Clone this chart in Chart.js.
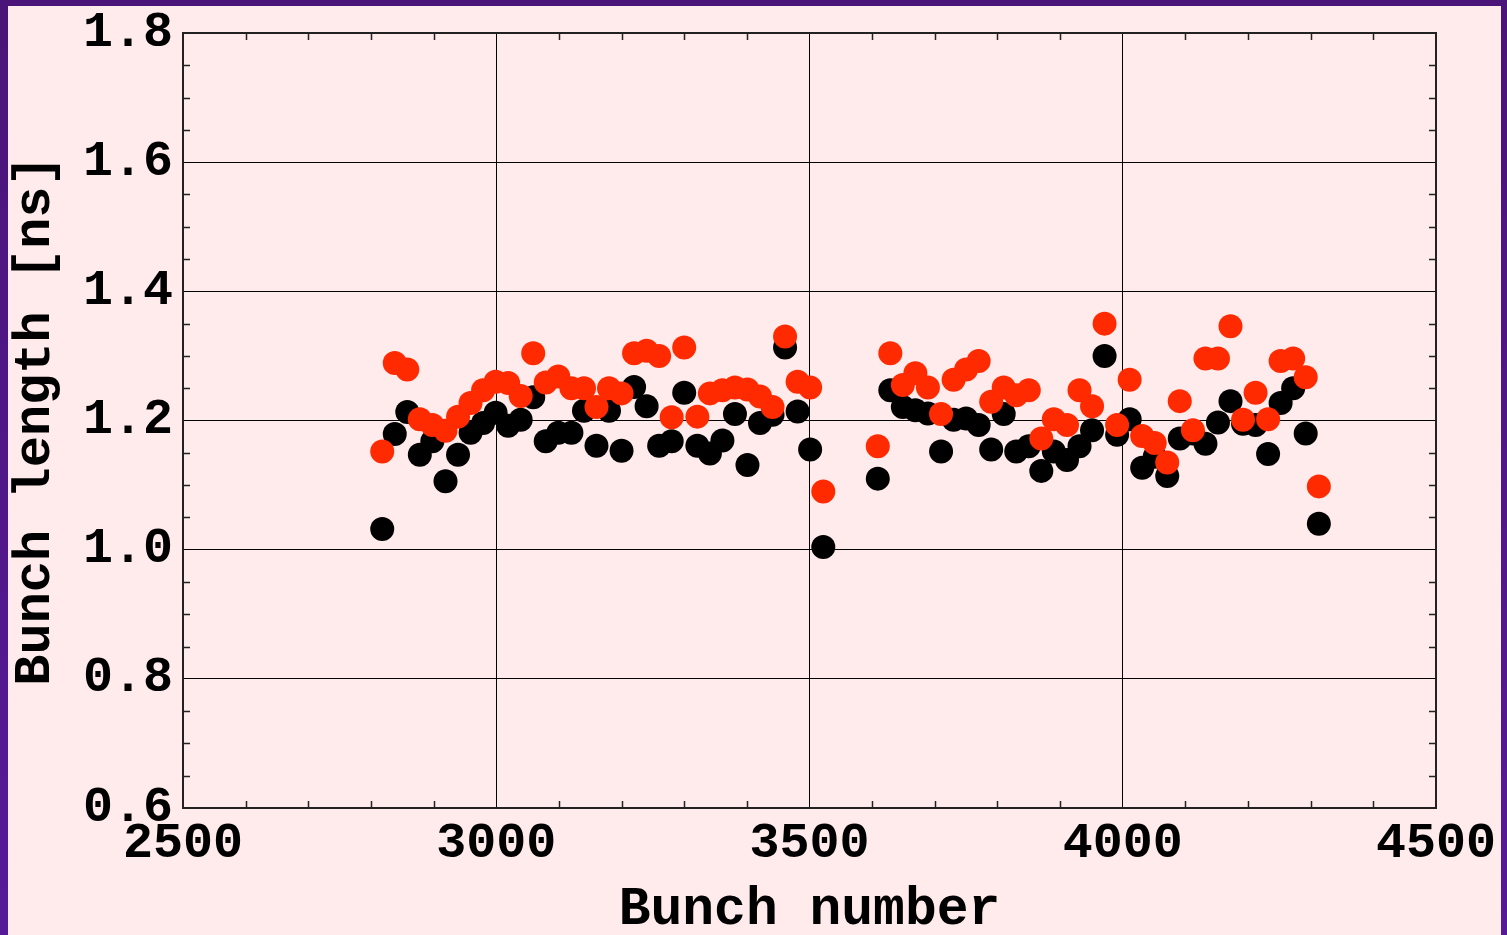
<!DOCTYPE html>
<html><head><meta charset="utf-8">
<script src="https://cdn.jsdelivr.net/npm/chart.js@4/dist/chart.umd.min.js"></script>
<style>html,body{margin:0;padding:0;background:#ffebeb;overflow:hidden}canvas{display:block}</style>
</head><body><canvas id="c" width="1507" height="935"></canvas>
<script>
// Bunch numbers, first train and second train
const bunchesTrain1 = [2818,2838,2858,2878,2898,2919,2939,2959,2979,2999,3019,3039,3059,3079,3099,3120,3140,3160,3180,3200,3220,3240,3260,3280,3300,3321,3341,3361,3381,3401,3421,3441,3461,3481,3501,3522];
const bunchesTrain2 = [3609,3629,3649,3669,3689,3710,3730,3750,3770,3790,3810,3830,3850,3870,3890,3911,3931,3951,3971,3991,4011,4031,4051,4071,4091,4112,4132,4152,4172,4192,4212,4232,4252,4272,4292,4313];
// Bunch length [ns], black series
const blackTrain1 = [1.032,1.179,1.213,1.147,1.168,1.106,1.147,1.181,1.196,1.212,1.192,1.201,1.236,1.168,1.181,1.181,1.215,1.161,1.215,1.153,1.252,1.222,1.161,1.168,1.243,1.161,1.149,1.169,1.210,1.131,1.196,1.209,1.313,1.214,1.155,1.004];
const blackTrain2 = [1.110,1.247,1.221,1.216,1.211,1.152,1.201,1.203,1.193,1.155,1.210,1.152,1.160,1.122,1.152,1.139,1.160,1.185,1.300,1.178,1.202,1.127,1.144,1.114,1.172,1.180,1.164,1.197,1.230,1.195,1.193,1.148,1.227,1.250,1.180,1.040];
// Bunch length [ns], red series
const redTrain1 = [1.152,1.289,1.279,1.202,1.193,1.184,1.206,1.227,1.247,1.260,1.258,1.238,1.304,1.259,1.268,1.250,1.250,1.221,1.250,1.242,1.304,1.308,1.300,1.205,1.313,1.206,1.242,1.247,1.251,1.248,1.237,1.221,1.330,1.260,1.251,1.090];
const redTrain2 = [1.160,1.304,1.255,1.273,1.251,1.210,1.263,1.279,1.292,1.229,1.251,1.239,1.247,1.172,1.202,1.193,1.247,1.222,1.350,1.193,1.263,1.176,1.165,1.135,1.230,1.185,1.296,1.296,1.346,1.201,1.243,1.202,1.292,1.296,1.267,1.098];
// Axis ranges / tick steps
const xRange = [2500, 4500], xMajor = 500, xMinor = 100;
const yRange = [0.6, 1.8], yMajor = 0.2, yMinor = 0.05;

const FONT = "'Liberation Mono', 'DejaVu Sans Mono', monospace";
const RED = '#ff2a00';

function pts(xs, ys) { return xs.map((x, i) => ({ x, y: ys[i] })); }

const bgPlugin = {
  id: 'bg',
  beforeDraw(chart) {
    const c = chart.ctx, W = chart.width, H = chart.height;
    c.save();
    const g = c.createLinearGradient(0, 0, 0, H);
    g.addColorStop(0, '#4a1478');
    g.addColorStop(1, '#561a98');
    c.fillStyle = g;
    c.fillRect(0, 0, W, H);
    c.fillStyle = '#ffebeb';
    c.fillRect(8, 6, W - 8 - 6, H - 6);
    c.restore();
  }
};

const framePlugin = {
  id: 'frame',
  beforeDatasetsDraw(chart) {
    const c = chart.ctx, a = chart.chartArea;
    const xs = chart.scales.x, ys = chart.scales.y;
    c.save();
    c.strokeStyle = '#222';
    c.lineWidth = 1.5;
    c.beginPath();
    for (let v = xRange[0] + xMinor; v < xRange[1] - 1e-6; v += xMinor) {
      if (Math.abs(v / xMajor - Math.round(v / xMajor)) < 1e-6) continue;
      const px = Math.round(xs.getPixelForValue(v)) + 0.5;
      c.moveTo(px, a.bottom); c.lineTo(px, a.bottom - 7);
      c.moveTo(px, a.top); c.lineTo(px, a.top + 7);
    }
    for (let k = 1; k < Math.round((yRange[1] - yRange[0]) / yMinor); k++) {
      if (k % 4 === 0) continue;
      const v = yRange[0] + k * yMinor;
      const py = Math.round(ys.getPixelForValue(v)) + 0.5;
      c.moveTo(a.left, py); c.lineTo(a.left + 7, py);
      c.moveTo(a.right, py); c.lineTo(a.right - 7, py);
    }
    c.stroke();
    c.lineWidth = 2;
    c.strokeStyle = '#222';
    c.strokeRect(a.left, a.top, a.right - a.left, a.bottom - a.top);
    c.restore();
  }
};

new Chart(document.getElementById('c'), {
  type: 'scatter',
  data: {
    datasets: [
      { label: 'red', data: pts(bunchesTrain1, redTrain1).concat(pts(bunchesTrain2, redTrain2)),
        backgroundColor: RED, borderWidth: 0, pointRadius: 12, pointHoverRadius: 12 },
      { label: 'black', data: pts(bunchesTrain1, blackTrain1).concat(pts(bunchesTrain2, blackTrain2)),
        backgroundColor: '#000', borderWidth: 0, pointRadius: 12, pointHoverRadius: 12 }
    ]
  },
  options: {
    responsive: false, animation: false, devicePixelRatio: 1,
    layout: { padding: { top: 33, right: 71, left: 0, bottom: 0 } },
    plugins: { legend: { display: false }, tooltip: { enabled: false } },
    scales: {
      x: {
        type: 'linear', min: xRange[0], max: xRange[1],
        ticks: { stepSize: xMajor, autoSkip: false, maxRotation: 0, color: '#000', padding: 6,
                 font: { family: FONT, size: 50, weight: 'bold' }, callback: v => String(v) },
        grid: { color: '#000', lineWidth: 1, drawTicks: false },
        border: { display: false },
        title: { display: true, text: 'Bunch number', color: '#000',
                 font: { family: FONT, size: 53, weight: 'bold', lineHeight: 0.9 }, padding: { top: 0, bottom: 0 } },
        afterFit(s) { s.height = 127; }
      },
      y: {
        type: 'linear', min: yRange[0], max: yRange[1],
        ticks: { stepSize: yMajor, autoSkip: false, color: '#000', padding: 10,
                 font: { family: FONT, size: 50, weight: 'bold', lineHeight: 0.8 }, callback: v => Number(v).toFixed(1) },
        grid: { color: '#000', lineWidth: 1, drawTicks: false },
        border: { display: false },
        title: { display: true, text: 'Bunch length [ns]', color: '#000',
                 font: { family: FONT, size: 52, weight: 'bold', lineHeight: 1 }, padding: { top: 10, bottom: 0 } },
        afterFit(s) { s.width = 183; }
      }
    }
  },
  plugins: [bgPlugin, framePlugin]
});
</script>
</body></html>
